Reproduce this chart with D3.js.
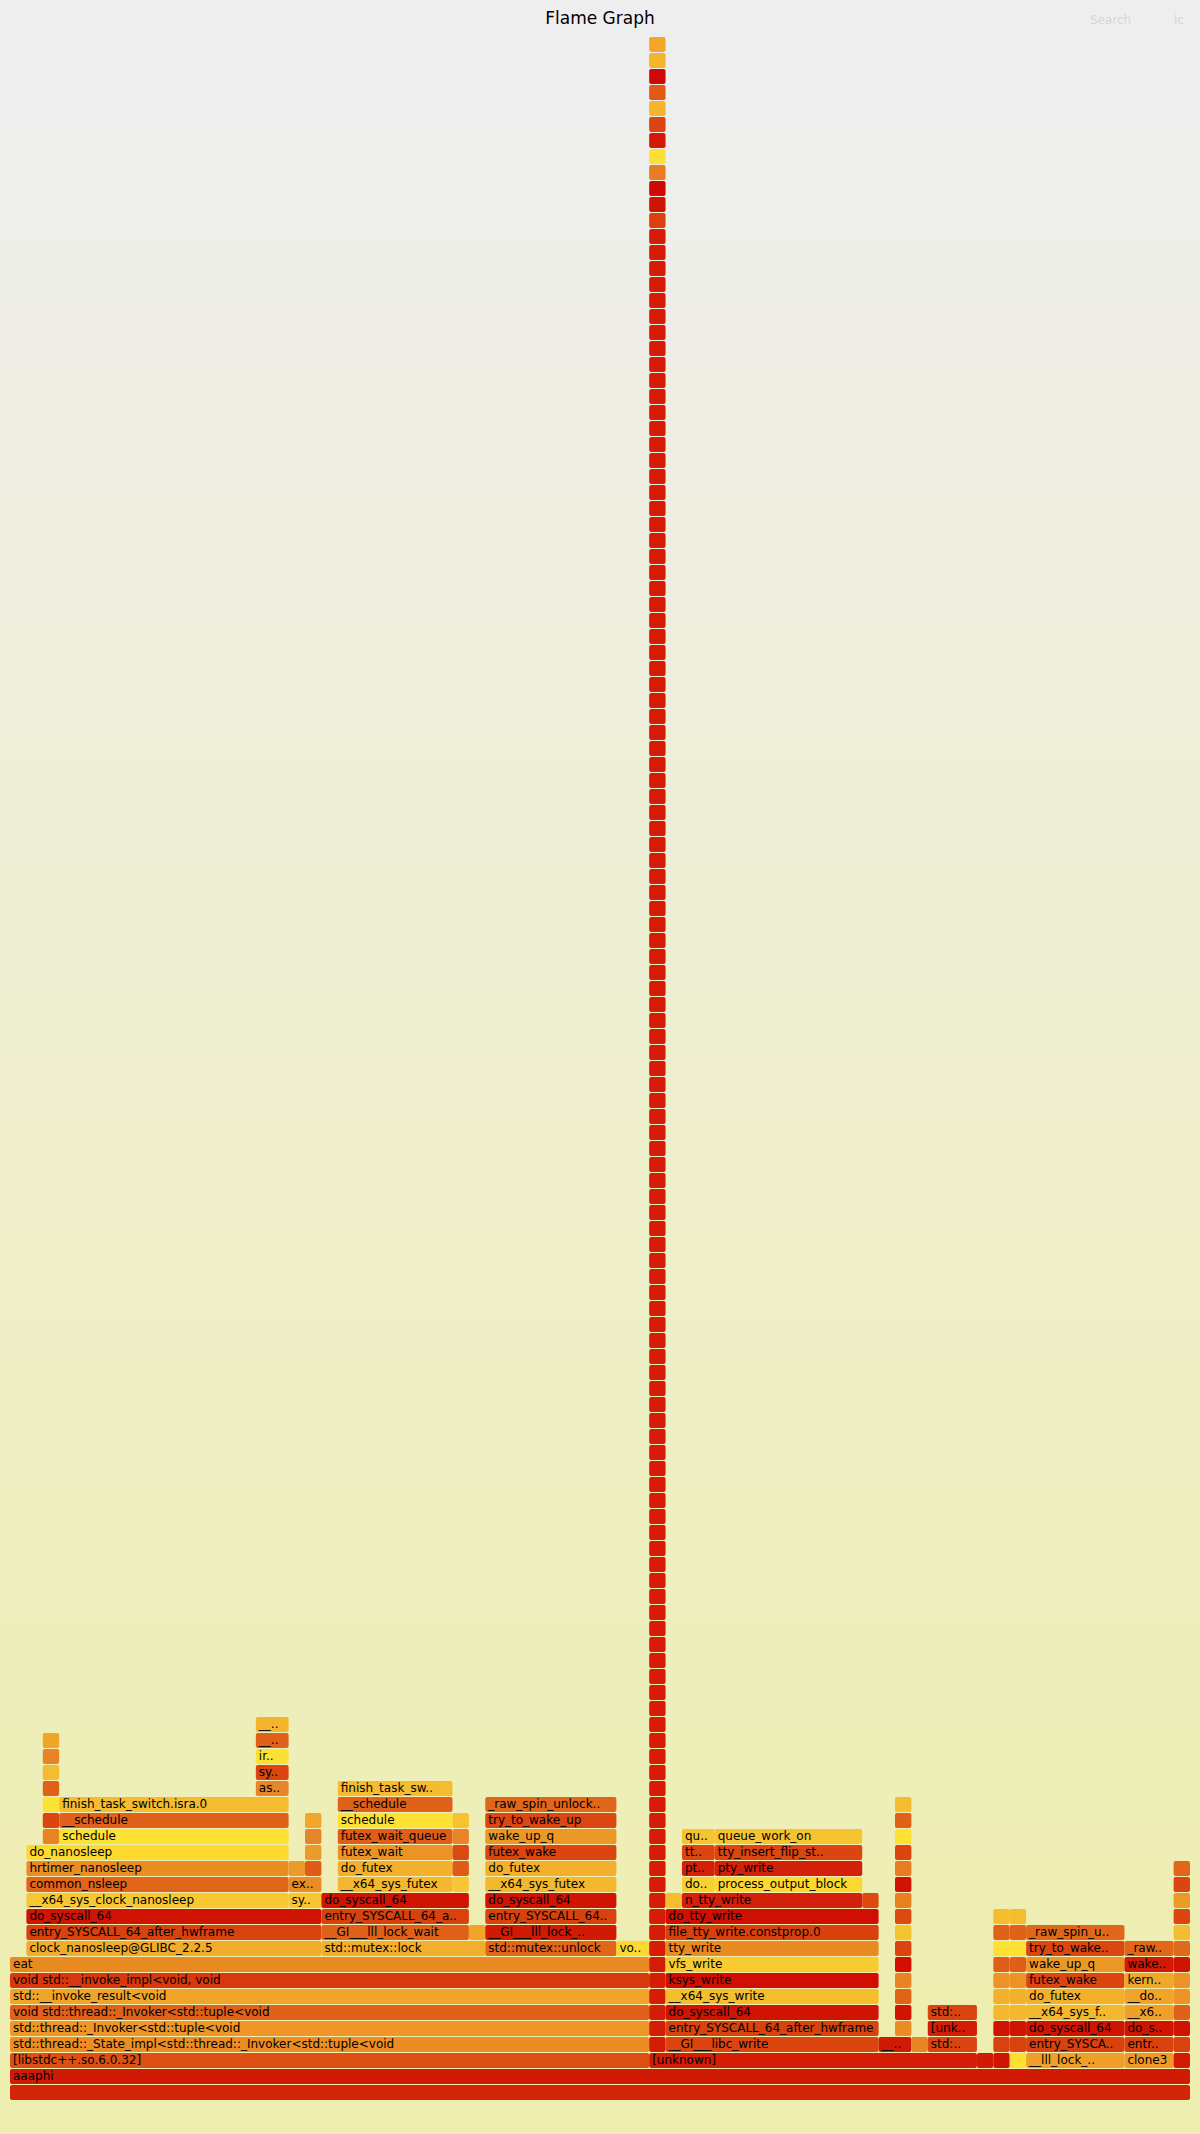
<!DOCTYPE html>
<html>
<head>
<meta charset="utf-8">
<script src="https://cdn.jsdelivr.net/npm/d3@7"></script>
<style>
html, body { margin: 0; padding: 0; background: #eeeeee; }
svg { display: block; }
svg text { font-family: Verdana, "DejaVu Sans", sans-serif; }
</style>
</head>
<body>
<svg id="chart"></svg>
<script>
// ---------------- DATA (folded stacks, left to right; count = samples) ----------------
const P_EAT = ["aaaphi", "[libstdc++.so.6.0.32]",
  "std::thread::_State_impl<std::thread::_Invoker<std::tuple<void",
  "std::thread::_Invoker<std::tuple<void",
  "void std::thread::_Invoker<std::tuple<void",
  "std::__invoke_result<void",
  "void std::__invoke_impl<void, void",
  "eat"];
const P_CLOCK = [...P_EAT, "clock_nanosleep@GLIBC_2.2.5", "entry_SYSCALL_64_after_hwframe", "do_syscall_64"];
const P_NANO = [...P_CLOCK, "__x64_sys_clock_nanosleep", "common_nsleep", "hrtimer_nanosleep", "do_nanosleep"];
const P_LOCK = [...P_EAT, "std::mutex::lock", "__GI___lll_lock_wait", "entry_SYSCALL_64_after_hwframe", "do_syscall_64"];
const P_UNK = ["aaaphi", "[unknown]"];
const P_WRITE = [...P_UNK, "__GI___libc_write", "entry_SYSCALL_64_after_hwframe", "do_syscall_64",
  "__x64_sys_write", "ksys_write", "vfs_write", "tty_write", "file_tty_write.constprop.0", "do_tty_write"];
const FUTEX_WAIT_K = ["entry_SYSCALL_64_after_hwframe", "do_syscall_64", "__x64_sys_futex", "do_futex",
  "futex_wait", "futex_wait_queue", "schedule", "__schedule", "finish_task_switch.isra.0"];
const FUTEX_WAKE_K = ["entry_SYSCALL_64_after_hwframe", "do_syscall_64", "__x64_sys_futex", "do_futex",
  "futex_wake", "wake_up_q", "try_to_wake_up", "_raw_spin_unlock_irqrestore"];

// the deep recursion tower (114 x [unknown]) and the kernel frames on its top
const towerStack = [
  "[unknown]","[unknown]","[unknown]","[unknown]","[unknown]","[unknown]","[unknown]","[unknown]","[unknown]","[unknown]",
  "[unknown]","[unknown]","[unknown]","[unknown]","[unknown]","[unknown]","[unknown]","[unknown]","[unknown]","[unknown]",
  "[unknown]","[unknown]","[unknown]","[unknown]","[unknown]","[unknown]","[unknown]","[unknown]","[unknown]","[unknown]",
  "[unknown]","[unknown]","[unknown]","[unknown]","[unknown]","[unknown]","[unknown]","[unknown]","[unknown]","[unknown]",
  "[unknown]","[unknown]","[unknown]","[unknown]","[unknown]","[unknown]","[unknown]","[unknown]","[unknown]","[unknown]",
  "[unknown]","[unknown]","[unknown]","[unknown]","[unknown]","[unknown]","[unknown]","[unknown]","[unknown]","[unknown]",
  "[unknown]","[unknown]","[unknown]","[unknown]","[unknown]","[unknown]","[unknown]","[unknown]","[unknown]","[unknown]",
  "[unknown]","[unknown]","[unknown]","[unknown]","[unknown]","[unknown]","[unknown]","[unknown]","[unknown]","[unknown]",
  "[unknown]","[unknown]","[unknown]","[unknown]","[unknown]","[unknown]","[unknown]","[unknown]","[unknown]","[unknown]",
  "[unknown]","[unknown]","[unknown]","[unknown]","[unknown]","[unknown]","[unknown]","[unknown]","[unknown]","[unknown]",
  "[unknown]","[unknown]","[unknown]","[unknown]","[unknown]","[unknown]","[unknown]","[unknown]","[unknown]","[unknown]",
  "[unknown]","[unknown]","[unknown]","[unknown]"
];
const towerTop = ["entry_SYSCALL_64_after_hwframe", "do_syscall_64", "ksys_read", "vfs_read", "seq_read",
  "seq_read_iter", "proc_single_show", "proc_pid_status", "task_mem",
  "asm_sysvec_apic_timer_interrupt", "sysvec_apic_timer_interrupt", "__sysvec_apic_timer_interrupt"];
const faultColumn = ["asm_exc_page_fault", "exc_page_fault", "do_user_addr_fault", "handle_mm_fault",
  "__handle_mm_fault", "handle_pte_fault", "do_fault", "filemap_map_pages", "next_uptodate_folio",
  "folio_wait_bit_common", "io_schedule", "schedule_timeout", "schedule", "__schedule", "finish_task_switch.isra.0"];
const exitColumn = ["start_thread", "entry_SYSCALL_64_after_hwframe", "do_syscall_64", "__x64_sys_exit",
  "do_exit", "exit_mm", "mmput", "exit_mmap", "unmap_vmas", "unmap_page_range", "zap_pmd_range.isra.0",
  "zap_pte_range", "tlb_flush_mmu"];

const stacks = [
  [[...P_EAT], 1],
  [[...P_NANO], 1],
  [[...P_NANO, "hrtimer_sleeper_start_expires", "hrtimer_start_range_ns", "schedule", "__schedule",
    "finish_task_switch.isra.0", "__perf_event_task_sched_in", "perf_ctx_enable"], 1],
  [[...P_NANO, "schedule", "__schedule", "finish_task_switch.isra.0"], 12],
  [[...P_NANO, "schedule", "__schedule", "finish_task_switch.isra.0", "asm_sysvec_irq_work",
    "sysvec_irq_work", "irq_exit_rcu", "__irq_exit_rcu", "__do_softirq"], 2],
  [[...P_CLOCK, "syscall_exit_to_user_mode", "exit_to_user_mode_prepare", "fpregs_restore_userregs"], 1],
  [[...P_CLOCK, "syscall_exit_to_user_mode", "exit_to_user_mode_prepare", "exit_to_user_mode_loop",
    "task_work_run", "__fput", "dput"], 1],
  [[...P_LOCK], 1],
  [[...P_LOCK, "__x64_sys_futex", "do_futex", "futex_wait", "futex_wait_queue", "schedule", "__schedule",
    "finish_task_switch.isra.0"], 7],
  [[...P_LOCK, "syscall_exit_to_user_mode", "exit_to_user_mode_loop", "arch_do_signal_or_restart",
    "get_signal", "do_group_exit"], 1],
  [[...P_EAT, "std::mutex::lock", "__pthread_mutex_lock_full"], 1],
  [[...P_EAT, "std::mutex::unlock", "__GI___lll_lock_wake", ...FUTEX_WAKE_K], 8],
  [[...P_EAT, "void std::this_thread::sleep_for<long, std::ratio<1l, 1000l> >"], 2],
  [[...P_UNK, ...towerStack, ...towerTop], 1],
  [[...P_WRITE, "tty_write_lock"], 1],
  [[...P_WRITE, "n_tty_write", "do_output_char", "pty_write", "tty_insert_flip_string_and_flags", "queue_work_on"], 2],
  [[...P_WRITE, "n_tty_write", "process_output_block", "pty_write", "tty_insert_flip_string_and_flags", "queue_work_on"], 9],
  [[...P_WRITE, "tty_write_unlock"], 1],
  [[...P_UNK, "__write_nocancel"], 1],
  [[...P_UNK, "__write_nocancel", ...faultColumn], 1],
  [[...P_UNK, "_IO_new_file_xsputn"], 1],
  [[...P_UNK, "std::ostream::flush", "[unknown]", "std::ostream::flush"], 3],
  [["aaaphi", "__nanosleep"], 1],
  [["aaaphi", "__lll_lock_wait", ...FUTEX_WAIT_K], 1],
  [["aaaphi", "___pthread_mutex_lock", ...FUTEX_WAIT_K], 1],
  [["aaaphi", "__lll_lock_wake", ...FUTEX_WAKE_K], 6],
  [["aaaphi", "clone3", "entry_SYSCALL_64_after_hwframe", "do_syscall_64", "__x64_sys_clone3",
    "__do_sys_clone3", "kernel_clone", "wake_up_new_task", "_raw_spin_unlock_irqrestore"], 3],
  [["aaaphi", ...exitColumn], 1]
];

// ---------------- STYLE (hot palette, one colour per function name) ----------------
const palette = {
  "": "#d42408", "aaaphi": "#d01a04", "[libstdc++.so.6.0.32]": "#de4f14",
  "std::thread::_State_impl<std::thread::_Invoker<std::tuple<void": "#ec8d24",
  "std::thread::_Invoker<std::tuple<void": "#ee9628",
  "void std::thread::_Invoker<std::tuple<void": "#e0621a",
  "std::__invoke_result<void": "#f0a42a",
  "void std::__invoke_impl<void, void": "#d8380e",
  "eat": "#ea8a22", "clock_nanosleep@GLIBC_2.2.5": "#f2ac2c",
  "entry_SYSCALL_64_after_hwframe": "#d9420f", "do_syscall_64": "#d01404",
  "__x64_sys_clock_nanosleep": "#f8c830", "common_nsleep": "#e0641a", "hrtimer_nanosleep": "#ea8e24",
  "do_nanosleep": "#fcda30", "schedule": "#fde234", "__schedule": "#e0621a",
  "finish_task_switch.isra.0": "#f4bc2e",
  "hrtimer_sleeper_start_expires": "#e88424", "hrtimer_start_range_ns": "#dc4410",
  "__perf_event_task_sched_in": "#e88424", "perf_ctx_enable": "#f0a428",
  "asm_sysvec_irq_work": "#e8842a", "sysvec_irq_work": "#dc4410", "irq_exit_rcu": "#fce032",
  "__irq_exit_rcu": "#e0621a", "__do_softirq": "#f4b42e",
  "syscall_exit_to_user_mode": "#f7c630", "exit_to_user_mode_prepare": "#ea8c24",
  "fpregs_restore_userregs": "#ec9a2a", "exit_to_user_mode_loop": "#e05a18",
  "task_work_run": "#ec9a2a", "__fput": "#e8842a", "dput": "#f2a62a",
  "arch_do_signal_or_restart": "#dc4a14", "get_signal": "#e8842a", "do_group_exit": "#f6c22e",
  "std::mutex::lock": "#f2ae2c", "__GI___lll_lock_wait": "#e0601a", "__x64_sys_futex": "#f4b82e",
  "do_futex": "#f4b02c", "futex_wait": "#ec9226", "futex_wait_queue": "#df5e18",
  "__pthread_mutex_lock_full": "#f0a428",
  "std::mutex::unlock": "#e0661a", "__GI___lll_lock_wake": "#d01a04", "futex_wake": "#dc4410",
  "wake_up_q": "#ec9826", "try_to_wake_up": "#dc4612", "_raw_spin_unlock_irqrestore": "#e0661a",
  "void std::this_thread::sleep_for<long, std::ratio<1l, 1000l> >": "#fcd830",
  "[unknown]": "#d41c06",
  "ksys_read": "#ce0a02", "vfs_read": "#e87c20", "seq_read": "#fce032", "seq_read_iter": "#d41a06",
  "proc_single_show": "#dc4410", "proc_pid_status": "#f4b42e", "task_mem": "#e05a16",
  "asm_sysvec_apic_timer_interrupt": "#ce0a02", "sysvec_apic_timer_interrupt": "#f4b42e",
  "__sysvec_apic_timer_interrupt": "#f2a62a",
  "__GI___libc_write": "#dc4410", "__x64_sys_write": "#f4be2c", "ksys_write": "#d00e02",
  "vfs_write": "#f8cc30", "tty_write": "#ea8a22", "file_tty_write.constprop.0": "#d8400e",
  "do_tty_write": "#d00e02", "tty_write_lock": "#f4bc2e", "n_tty_write": "#d2200a",
  "do_output_char": "#f8d030", "process_output_block": "#fcd830", "pty_write": "#d2200a",
  "tty_insert_flip_string_and_flags": "#dc4410", "queue_work_on": "#f6c42e",
  "tty_write_unlock": "#dc4a12",
  "__write_nocancel": "#d01a04",
  "asm_exc_page_fault": "#ec8c24", "exc_page_fault": "#d01404", "do_user_addr_fault": "#e06418",
  "handle_mm_fault": "#e88424", "__handle_mm_fault": "#d00e02", "handle_pte_fault": "#dc4410",
  "do_fault": "#f4c430", "filemap_map_pages": "#dc4a12", "next_uptodate_folio": "#e8801f",
  "folio_wait_bit_common": "#d01404", "io_schedule": "#e87c20", "schedule_timeout": "#dc4410",
  "_IO_new_file_xsputn": "#e88424", "std::ostream::flush": "#da4410",
  "__nanosleep": "#d01a04", "__lll_lock_wait": "#d01404", "___pthread_mutex_lock": "#fce032",
  "__lll_lock_wake": "#f0a02a", "clone3": "#ee9a2a", "__x64_sys_clone3": "#f0a02a",
  "__do_sys_clone3": "#f0a42a", "kernel_clone": "#f0a82a", "wake_up_new_task": "#d41a06",
  "start_thread": "#d41a06", "__x64_sys_exit": "#e0621a", "do_exit": "#ec9226", "exit_mm": "#ec9226",
  "mmput": "#d01404", "exit_mmap": "#e06a1c", "unmap_vmas": "#f4bc2e", "unmap_page_range": "#dc4410",
  "zap_pmd_range.isra.0": "#ec9a26", "zap_pte_range": "#dc4410", "tlb_flush_mmu": "#e0661a"
};

// ---------------- LAYOUT ----------------
const WIDTH = 1200, HEIGHT = 2134, XPAD = 10, FRAME_H = 16, YPAD1 = 36, YPAD2 = 34;
const FONT = 12, FONT_W = 0.59;

function buildTree(rows) {
  const root = { name: "", children: [] };
  rows.forEach(([frames, count]) => {
    let node = root;
    frames.forEach(name => {
      const last = node.children[node.children.length - 1];
      if (last && !last.isSelf && last.name === name) node = last;
      else { const c = { name, children: [] }; node.children.push(c); node = c; }
    });
    node.children.push({ name: "", isSelf: true, count, children: [] });
  });
  return root;
}

const hroot = d3.hierarchy(buildTree(stacks)).sum(d => d.isSelf ? d.count : 0);
d3.partition().size([hroot.value, 1])(hroot);
const frames = hroot.descendants().filter(d => !d.data.isSelf);
const maxDepth = d3.max(frames, d => d.depth);

const x = d3.scaleLinear().domain([0, hroot.value]).range([XPAD, WIDTH - XPAD]);
const y = d3.scaleLinear().domain([0, maxDepth + 1])
  .range([HEIGHT - YPAD2, HEIGHT - YPAD2 - (maxDepth + 1) * FRAME_H]);

const svg = d3.select("#chart").attr("width", WIDTH).attr("height", HEIGHT)
  .attr("viewBox", `0 0 ${WIDTH} ${HEIGHT}`);

const grad = svg.append("defs").append("linearGradient").attr("id", "background")
  .attr("x1", 0).attr("x2", 0).attr("y1", 0).attr("y2", 1);
grad.append("stop").attr("offset", "5%").attr("stop-color", "#eeeeee");
grad.append("stop").attr("offset", "95%").attr("stop-color", "#eeeeb0");
svg.append("rect").attr("x", 0).attr("y", 0).attr("width", WIDTH).attr("height", HEIGHT)
  .attr("fill", "url(#background)");

svg.append("text").attr("x", WIDTH / 2).attr("y", 24).attr("text-anchor", "middle")
  .attr("font-size", 17).attr("fill", "#000").text("Flame Graph");
svg.append("text").attr("x", WIDTH - XPAD - 100).attr("y", 24).attr("font-size", FONT)
  .attr("fill", "#000").attr("opacity", 0.1).text("Search");
svg.append("text").attr("x", WIDTH - XPAD - 16).attr("y", 24).attr("font-size", FONT)
  .attr("fill", "#000").attr("opacity", 0.1).text("ic");

const g = svg.append("g").attr("id", "frames");
const fr = g.selectAll("g.frame").data(frames).join("g").attr("class", "frame");

fr.append("rect")
  .attr("x", d => x(d.x0))
  .attr("y", d => y(d.depth + 1) + 1)
  .attr("width", d => x(d.x1) - x(d.x0))
  .attr("height", d => y(d.depth) - y(d.depth + 1) - 1)
  .attr("rx", 2).attr("ry", 2)
  .attr("fill", d => palette[d.data.name] || "#e0601a");

function label(d) {
  const w = x(d.x1) - x(d.x0);
  const chars = Math.floor(w / (FONT * FONT_W));
  const name = d.data.name;
  if (chars < 3) return "";
  let t = name.substr(0, chars);
  if (chars < name.length) t = t.substr(0, t.length - 2) + "..";
  return t;
}

fr.append("text")
  .attr("x", d => x(d.x0) + 3)
  .attr("y", d => y(d.depth + 1) + 1 + 10.5)
  .attr("font-size", FONT)
  .attr("fill", "#000")
  .text(label);
</script>
</body>
</html>
